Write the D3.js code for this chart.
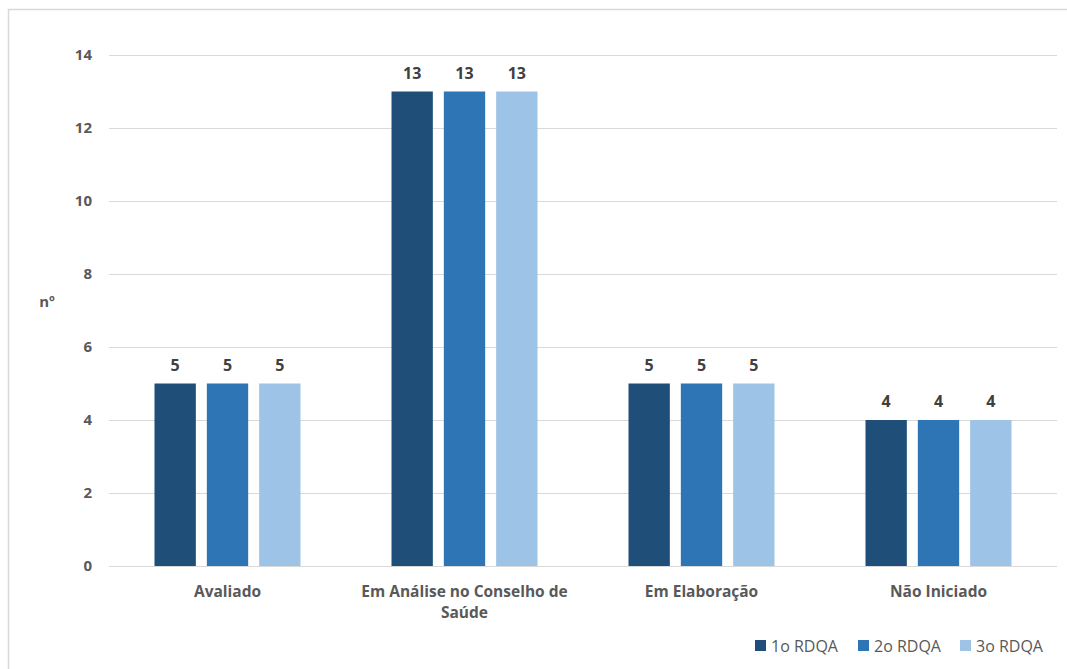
<!DOCTYPE html>
<html><head><meta charset="utf-8">
<script src="https://cdn.jsdelivr.net/npm/d3@7"></script>
<style>
body{margin:0;background:#fff;}
text{font-family:"Open Sans",sans-serif;}
</style></head>
<body><svg id="c" width="1067" height="669"></svg>
<script>
const categories = ["Avaliado", "Em Análise no Conselho de Saúde", "Em Elaboração", "Não Iniciado"];
const categoryLines = [["Avaliado"], ["Em Análise no Conselho de", "Saúde"], ["Em Elaboração"], ["Não Iniciado"]];
const seriesNames = ["1o RDQA", "2o RDQA", "3o RDQA"];
const s1 = [5, 13, 5, 4];
const s2 = [5, 13, 5, 4];
const s3 = [5, 13, 5, 4];
const seriesValues = [s1, s2, s3];
const yTicks = [0, 2, 4, 6, 8, 10, 12, 14];
const colors = ["#1f4e79", "#2e75b6", "#9dc3e6"];

(function(){
const svg = d3.select("#c");
svg.append("rect").attr("x", 8.5).attr("y", 9.5).attr("width", 1070).attr("height", 700)
  .attr("fill", "none").attr("stroke", "#d9d9d9").attr("stroke-width", 1.5);

const pLeft = 109, pRight = 1057, pTop = 55, pBottom = 566;
const x = d3.scaleBand().domain(categories).range([pLeft, pRight]);
const xs = d3.scaleBand().domain(seriesNames).range([0, 146]).paddingInner(0.21);
const y = d3.scaleLinear().domain([0, 14]).range([pBottom, pTop]);

svg.append("g").selectAll("line").data(yTicks).join("line")
  .attr("x1", pLeft).attr("x2", pRight)
  .attr("y1", d => y(d) + 0.5).attr("y2", d => y(d) + 0.5)
  .attr("stroke", "#d9d9d9").attr("stroke-width", 1);

svg.append("g").selectAll("text").data(yTicks).join("text")
  .attr("x", 92).attr("y", d => y(d)).attr("dy", "0.35em")
  .attr("text-anchor", "end").attr("font-size", 15).attr("font-weight", "bold")
  .attr("fill", "#595959").text(d => d);

svg.append("text").attr("x", 47).attr("y", 302).attr("dy", "0.35em")
  .attr("text-anchor", "middle").attr("font-size", 15).attr("font-weight", "bold")
  .attr("fill", "#595959").text("nº");

const groupW = 146;
seriesNames.forEach((s, si) => {
  const g = svg.append("g");
  g.selectAll("rect").data(seriesValues[si]).join("rect")
    .attr("x", (d, i) => x(categories[i]) + (x.bandwidth() - groupW) / 2 + xs(s))
    .attr("y", d => y(d))
    .attr("width", xs.bandwidth())
    .attr("height", d => pBottom - y(d))
    .attr("fill", colors[si]);
  g.selectAll("text").data(seriesValues[si]).join("text")
    .attr("x", (d, i) => x(categories[i]) + (x.bandwidth() - groupW) / 2 + xs(s) + xs.bandwidth() / 2)
    .attr("y", d => y(d) - 13)
    .attr("text-anchor", "middle").attr("font-size", 16).attr("font-weight", "bold")
    .attr("fill", "#404040").text(d => d);
});

categoryLines.forEach((lines, i) => {
  const t = svg.append("text").attr("text-anchor", "middle")
    .attr("font-size", 15.5).attr("font-weight", "bold").attr("fill", "#595959");
  lines.forEach((l, j) => {
    t.append("tspan").attr("x", x(categories[i]) + x.bandwidth() / 2)
      .attr("y", 597 + j * 21).text(l);
  });
});

const legX = [755, 858, 960];
seriesNames.forEach((s, i) => {
  svg.append("rect").attr("x", legX[i]).attr("y", 640).attr("width", 11).attr("height", 11)
    .attr("fill", colors[i]);
  svg.append("text").attr("x", legX[i] + 16).attr("y", 646).attr("dy", "0.35em")
    .attr("font-size", 16).attr("fill", "#595959").text(s);
});
})();
</script>
</body></html>
